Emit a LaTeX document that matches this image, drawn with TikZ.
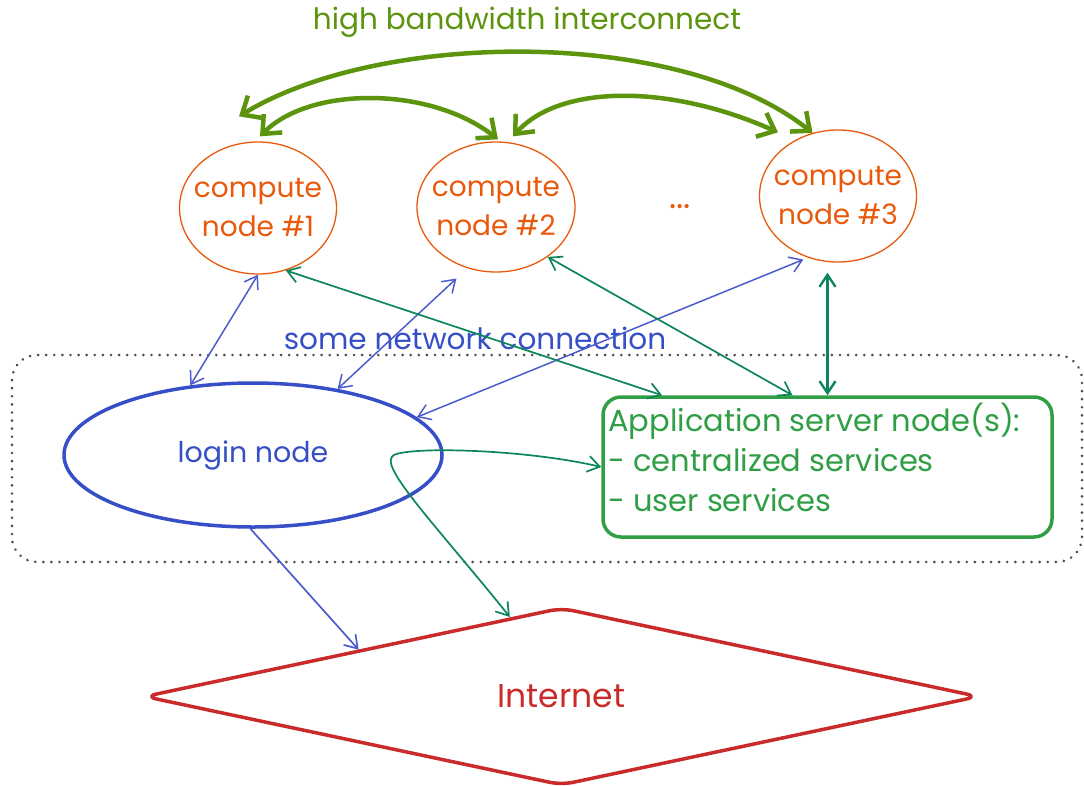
\documentclass[tikz,border=0pt]{standalone}
\usepackage{fontspec}
\setmainfont{Poppins}
\usetikzlibrary{shapes.geometric,arrows.meta,calc}

\definecolor{corange}{HTML}{E8590C}
\definecolor{hbgreen}{HTML}{5C940D}
\definecolor{lblue}{HTML}{364FC7}
\definecolor{nblue}{HTML}{4C5CCF}
\definecolor{agreen}{HTML}{2F9E44}
\definecolor{tgreen}{HTML}{0C8559}
\definecolor{ired}{HTML}{C92A2A}
\definecolor{dotgray}{HTML}{4A4A4A}

\begin{document}
\begin{tikzpicture}[x=1pt,y=-1pt,line cap=round,line join=round,
  handfont/.style={font=\fontsize{#1}{39}\selectfont},
  handfont/.default=28,
  cnode/.style={ellipse,draw=corange,line width=1.3pt,minimum width=157pt,
    minimum height=132pt,inner sep=-20pt,text=corange,align=center,handfont=28},
  hb/.style={draw=hbgreen,line width=4.5pt,
    {Straight Barb[length=15pt,width=26pt]}-{Straight Barb[length=15pt,width=26pt]}},
  net/.style={draw=nblue,line width=1.5pt,
    {Straight Barb[length=12pt,width=16pt]}-{Straight Barb[length=12pt,width=16pt]}},
  gr/.style={draw=tgreen,line width=1.7pt,
    {Straight Barb[length=12pt,width=16pt]}-{Straight Barb[length=12pt,width=16pt]}},
  grone/.style={draw=tgreen,line width=1.7pt,-{Straight Barb[length=12pt,width=16pt]}},
  blone/.style={draw=nblue,line width=1.7pt,-{Straight Barb[length=12pt,width=16pt]}},
]
\useasboundingbox (0,0) rectangle (1084,785);

% dotted grouping frame around the service layer
\draw[dotgray,line width=2.8pt,dash pattern=on 0.1pt off 8pt,rounded corners=25pt]
  (12,355) rectangle (1082,562);

% labels
\node[text=hbgreen,handfont=29.5] (title) at (527,22) {high bandwidth interconnect};
\node[text=lblue,handfont=29.5] (netlabel) at (475,338) {some network connection};

% compute nodes
\node[cnode] (c1) at (258,208) {compute\\node \#1};
\node[cnode,minimum width=158pt,minimum height=130pt] (c2) at (496,207) {compute\\node \#2};
\node[cnode] (c3) at (838,196) {compute\\node \#3};
\node[text=corange,handfont=34,anchor=base] (dots) at (680,208) {...};

% login node
\node[ellipse,draw=lblue,line width=3.5pt,minimum width=378pt,minimum height=144pt,
  inner sep=0pt,text=lblue,handfont=28.5] (login) at (253,455) {login node};

% application server
\node[draw=agreen,line width=3.5pt,rounded corners=18pt,minimum width=449pt,
  minimum height=140pt,inner sep=0pt] (app) at (827.5,467) {};
\node[anchor=north west,text=agreen,align=left,inner sep=0pt,
  font=\fontsize{30.5}{40}\selectfont]
  (apptext) at (608,403) {Application server node(s):\\- centralized services\\- user services};

% internet
\node[diamond,draw=ired,line width=3.5pt,rounded corners=12pt,minimum width=835pt,
  minimum height=178pt,inner sep=0pt,text=ired,handfont=33] (inet) at (561.5,696.5) {Internet};

% high bandwidth interconnect
\draw[hb] ($(c1.north)+(-19,-25)$) .. controls (380,30) and (680,27) .. (c3.112);
\draw[hb] ($(c1.north)+(2,-5)$) .. controls (310,86) and (430,86) .. ($(c2.north)+(2,-2)$);
\draw[hb] ($(c2.north)+(17,-5)$) .. controls (560,84) and (670,84) .. ($(c3.north)+(-60,3)$);

% network connections from the login node
\draw[net] (login.132) -- (c1.south);
\draw[net,shorten >=15pt] (login.38) -- (c2.245);
\draw[net,shorten >=5pt] (login.13) -- (c3.244);

% connections to the application server
\draw[gr] (c1.294) -- ($(app.north)+(-165.5,0)$);
\draw[gr] (c2.316) -- ($(app.north)+(-35,0)$);
\draw[gr,line width=2.4pt,shorten <=10pt] (c3.south -| app.north) -- (app.north);

% outgoing links
\draw[grone] ($(login.east)+(-52,2)$) .. controls (395,446) and (520,448) .. (app.west);
\draw[grone] ($(login.east)+(-52,2)$) .. controls (382,470) and (440,530) .. (inet.123);
\draw[blone] (login.268) -- (inet.167);
\end{tikzpicture}
\end{document}
